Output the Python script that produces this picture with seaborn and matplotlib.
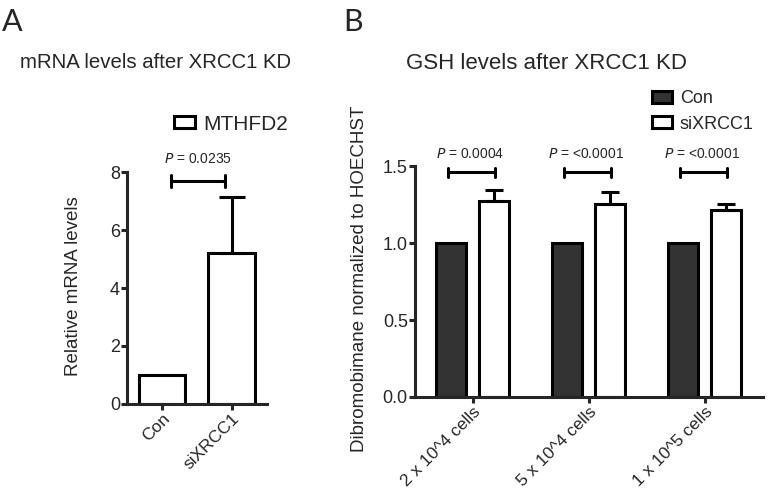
import matplotlib
matplotlib.use("Agg")
import matplotlib.pyplot as plt
import seaborn as sns
import pandas as pd

# panel A data
a_groups = ["Con", "siXRCC1"]
a_means = [1.0, 5.2]
a_err = [0.0, 1.95]
a_p = "0.0235"

# panel B data
b_cells = ["2 x 10^4 cells", "5 x 10^4 cells", "1 x 10^5 cells"]
b_con = [1.0, 1.0, 1.0]
b_si = [1.27, 1.253, 1.214]
b_si_err = [0.075, 0.077, 0.04]
b_p = ["0.0004", "<0.0001", "<0.0001"]

sns.set_style("ticks")
plt.rcParams["font.family"] = ["Liberation Sans", "DejaVu Sans"]
plt.rcParams["axes.linewidth"] = 2.2

fig = plt.figure(figsize=(7.68, 4.96), dpi=100)

lw = 2.2

def style_axis(ax):
    sns.despine(ax=ax)
    ax.tick_params(width=lw, length=4, pad=1)
    ax.tick_params(axis="y", labelsize=13)
    ax.tick_params(axis="x", labelsize=12.5)
    ax.set_xlabel("")
    for lab in ax.get_xticklabels():
        lab.set_rotation(45)
        lab.set_ha("right")
        lab.set_rotation_mode("anchor")

# ---------- panel A
axA = fig.add_axes([0.1654, 0.1855, 0.182, 0.4677])
dfA = pd.DataFrame({"group": a_groups, "value": a_means, "gene": "MTHFD2"})
sns.barplot(data=dfA, x="group", y="value", hue="gene", palette=["white"],
            edgecolor="black", linewidth=lw, width=0.67, errorbar=None,
            ax=axA)
axA.set_xlim(-0.5, 1.5)
axA.set_ylim(0, 8)
axA.set_yticks([0, 2, 4, 6, 8])
axA.set_ylabel("Relative mRNA levels", fontsize=13.5)
axA.yaxis.set_label_coords(-0.32, 0.51)
xs = [p.get_x() + p.get_width() / 2 for p in axA.patches[:2]]
axA.errorbar(xs[1], a_means[1], yerr=[[0], [a_err[1]]], fmt="none",
             ecolor="black", elinewidth=lw, capsize=9.5, capthick=lw)
axA.plot([xs[0] + 0.13, xs[1] - 0.1], [7.7, 7.7], color="black", lw=lw)
axA.plot([xs[0] + 0.13] * 2, [7.5, 7.9], color="black", lw=lw)
axA.plot([xs[1] - 0.1] * 2, [7.5, 7.9], color="black", lw=lw)
axA.text((xs[0] + xs[1]) / 2 + 0.02, 8.2, "$P$ = " + a_p, ha="center",
         va="bottom", fontsize=10)
axA.legend(loc="center left", bbox_to_anchor=(174 / 768, 1 - 124 / 496),
           bbox_transform=fig.transFigure, frameon=False, borderpad=0,
           borderaxespad=0, fontsize=15, handlelength=1.0, handleheight=0.55,
           handletextpad=0.4)
for h in axA.get_legend().get_patches():
    h.set_linewidth(lw)
style_axis(axA)

# ---------- panel B
axB = fig.add_axes([0.540, 0.1996, 0.4531, 0.4657])
dfB = pd.DataFrame({
    "cells": b_cells * 2,
    "value": b_con + b_si,
    "group": ["Con"] * 3 + ["siXRCC1"] * 3,
})
sns.barplot(data=dfB, x="cells", y="value", hue="group",
            palette={"Con": "#333333", "siXRCC1": "white"},
            edgecolor="black", linewidth=lw, width=0.74, gap=0.3,
            errorbar=None, ax=axB)
axB.set_xlim(-0.5, 2.5)
axB.set_ylim(0, 1.5)
axB.set_yticks([0, 0.5, 1.0, 1.5])
axB.set_yticklabels(["0.0", "0.5", "1.0", "1.5"])
axB.set_ylabel("Dibromobimane normalized to HOECHST", fontsize=13.5)
axB.yaxis.set_label_coords(-0.135, 0.51)
bars = axB.patches[:6]
con_x = [p.get_x() + p.get_width() / 2 for p in bars[:3]]
si_x = [p.get_x() + p.get_width() / 2 for p in bars[3:6]]
axB.errorbar(si_x, b_si, yerr=[[0] * 3, b_si_err], fmt="none",
             ecolor="black", elinewidth=lw, capsize=6.4, capthick=lw)
for i in range(3):
    x0, x1 = con_x[i] - 0.03, si_x[i] + 0.01
    axB.plot([x0, x1], [1.46, 1.46], color="black", lw=lw)
    axB.plot([x0, x0], [1.43, 1.49], color="black", lw=lw)
    axB.plot([x1, x1], [1.43, 1.49], color="black", lw=lw)
    axB.text((x0 + x1) / 2 - 0.01, 1.53, "$P$ = " + b_p[i], ha="center",
             va="bottom", fontsize=10)
axB.legend(loc="center left", bbox_to_anchor=(652 / 768, 1 - 111.5 / 496),
           bbox_transform=fig.transFigure, frameon=False, borderpad=0,
           borderaxespad=0, fontsize=13, handlelength=1.1, handleheight=0.65,
           handletextpad=0.45, labelspacing=0.45)
for h in axB.get_legend().get_patches():
    h.set_linewidth(lw)
style_axis(axB)

# titles and panel letters
fig.text(0.026, 0.873, "mRNA levels after XRCC1 KD", fontsize=14.7, va="center")
fig.text(0.712, 0.871, "GSH levels after XRCC1 KD", fontsize=16,
         va="center", ha="center")
fig.text(0.003, 0.955, "A", fontsize=22, va="center", family=["Lato", "DejaVu Sans"])
fig.text(0.447, 0.955, "B", fontsize=22, va="center", family=["Lato", "DejaVu Sans"])

fig.savefig("out.png", dpi=100)
